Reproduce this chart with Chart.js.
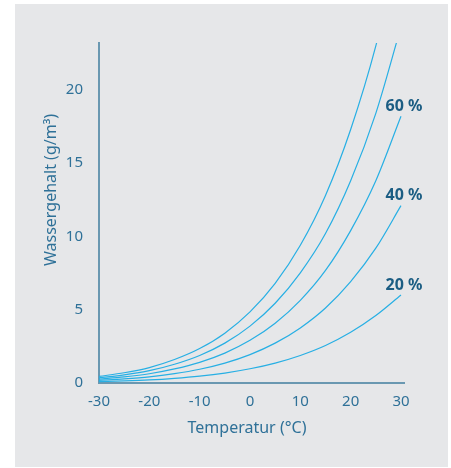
<!DOCTYPE html>
<html>
<head>
<meta charset="utf-8">
<script src="https://cdn.jsdelivr.net/npm/chart.js@4"></script>
<style>
  html, body { margin: 0; padding: 0; background: #ffffff; }
  #wrap { width: 451px; height: 468px; position: relative; }
</style>
</head>
<body>
<div id="wrap"><canvas id="c" width="451" height="468"></canvas></div>
<script>
// Temperature (°C)
const temps = [-30, -25, -20, -15, -10, -5, 0, 5, 10, 15, 20, 25, 30];
// Water content (g/m³) at relative humidity
const rh100 = [0.45, 0.70, 1.05, 1.60, 2.35, 3.40, 4.85, 6.80, 9.40, 12.8, 17.3, 23.0, 30.4];
const rh80  = [0.36, 0.56, 0.84, 1.28, 1.88, 2.72, 3.88, 5.44, 7.52, 10.2, 13.8, 18.4, 24.3];
const rh60  = [0.27, 0.42, 0.63, 0.96, 1.41, 2.04, 2.91, 4.08, 5.64, 7.68, 10.4, 13.8, 18.2];
const rh40  = [0.18, 0.28, 0.42, 0.64, 0.94, 1.36, 1.94, 2.72, 3.76, 5.12, 6.92, 9.20, 12.1];
const rh20  = [0.09, 0.14, 0.21, 0.32, 0.47, 0.68, 0.97, 1.36, 1.88, 2.56, 3.46, 4.60, 6.00];
const seriesLabels = ['100 %', '80 %', '60 %', '40 %', '20 %'];
const shownLabels = ['60 %', '40 %', '20 %'];
const xTicks = [-30, -20, -10, 0, 10, 20, 30];
const yTicks = [0, 5, 10, 15, 20];
const xTitle = 'Temperatur (°C)';
const yTitle = 'Wassergehalt (g/m³)';

const LINE = '#27afe4';
const AXIS = '#6a98b1';
const TXT = '#2f7198';
const BOLD = '#1b5d83';
const FONT = '"Noto Sans", "Open Sans", sans-serif';

const allSeries = [rh100, rh80, rh60, rh40, rh20];
const datasets = allSeries.map((s, i) => ({
  label: seriesLabels[i],
  data: temps.map((t, j) => ({ x: t, y: s[j] })),
  borderColor: LINE,
  borderWidth: 1.2,
  pointRadius: 0,
  fill: false,
  cubicInterpolationMode: 'monotone'
}));

const bgPlugin = {
  id: 'bg',
  beforeDraw(chart) {
    const ctx = chart.ctx;
    ctx.save();
    ctx.fillStyle = '#ffffff';
    ctx.fillRect(0, 0, chart.width, chart.height);
    ctx.fillStyle = '#e6e7e9';
    ctx.fillRect(15, 4, 433, 463);
    ctx.restore();
  },
  afterDraw(chart) {
    const ctx = chart.ctx;
    const xs = chart.scales.x, ys = chart.scales.y;
    ctx.save();
    // axis titles
    ctx.fillStyle = TXT;
    ctx.font = '16px ' + FONT;
    ctx.textAlign = 'center';
    ctx.textBaseline = 'middle';
    ctx.fillText(xTitle, 247, 428);
    ctx.translate(51, 190);
    ctx.rotate(-Math.PI / 2);
    ctx.fillText(yTitle, 0, 0);
    ctx.restore();
    // series labels
    ctx.save();
    ctx.fillStyle = BOLD;
    ctx.font = 'bold 16px ' + FONT;
    ctx.textAlign = 'center';
    ctx.textBaseline = 'middle';
    shownLabels.forEach(lbl => {
      const idx = seriesLabels.indexOf(lbl);
      const s = allSeries[idx];
      const px = xs.getPixelForValue(temps[temps.length - 1]) + 3;
      const py = ys.getPixelForValue(s[s.length - 1]) - 10;
      ctx.fillText(lbl, px, py);
    });
    ctx.restore();
  }
};

new Chart(document.getElementById('c'), {
  type: 'line',
  data: { datasets },
  options: {
    responsive: false,
    animation: false,
    devicePixelRatio: 1,
    layout: { padding: { top: 43, right: 47, left: 0, bottom: 0 } },
    plugins: { legend: { display: false }, tooltip: { enabled: false } },
    scales: {
      x: {
        type: 'linear',
        min: -30,
        max: 30.6,
        afterBuildTicks: s => { s.ticks = xTicks.map(v => ({ value: v })); },
        afterFit: s => { s.height = 85; },
        grid: { display: false, drawTicks: false },
        border: { display: true, color: AXIS, width: 2 },
        ticks: { color: TXT, font: { family: FONT, size: 15 }, padding: 10, maxRotation: 0 }
      },
      y: {
        type: 'linear',
        min: 0,
        max: 23.2,
        afterBuildTicks: s => { s.ticks = yTicks.map(v => ({ value: v })); },
        afterFit: s => { s.width = 99; },
        grid: { display: false, drawTicks: false },
        border: { display: true, color: AXIS, width: 2 },
        ticks: { color: TXT, font: { family: FONT, size: 15 }, padding: 16 }
      }
    }
  },
  plugins: [bgPlugin]
});
</script>
</body>
</html>
